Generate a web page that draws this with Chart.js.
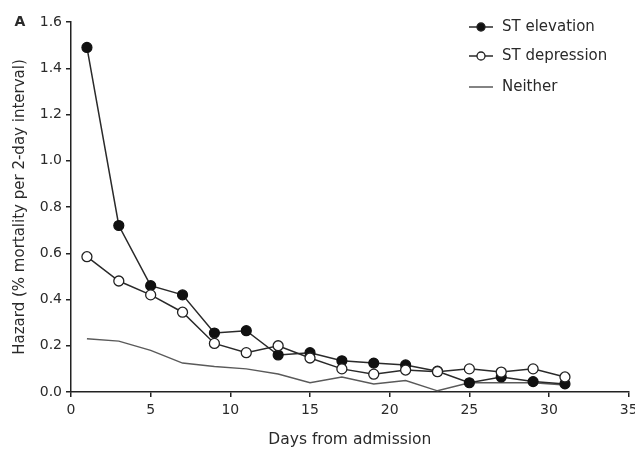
<!DOCTYPE html>
<html>
<head>
<meta charset="utf-8">
<script src="https://cdn.jsdelivr.net/npm/chart.js@4.4.0/dist/chart.umd.min.js"></script>
<style>
  html, body { margin: 0; padding: 0; background: #fff; }
  #wrap { width: 635px; height: 450px; position: relative; }
</style>
</head>
<body>
<div id="wrap"><canvas id="chartHazard" width="635" height="450"></canvas></div>
<script>
const days = [1, 3, 5, 7, 9, 11, 13, 15, 17, 19, 21, 23, 25, 27, 29, 31];
const stElevation = [1.49, 0.72, 0.46, 0.42, 0.255, 0.265, 0.16, 0.17, 0.135, 0.125, 0.117, 0.09, 0.04, 0.065, 0.045, 0.035];
const stDepression = [0.585, 0.48, 0.42, 0.345, 0.21, 0.17, 0.2, 0.147, 0.10, 0.077, 0.095, 0.088, 0.10, 0.086, 0.10, 0.065];
const neither = [0.23, 0.22, 0.18, 0.125, 0.11, 0.10, 0.078, 0.04, 0.065, 0.035, 0.05, 0.005, 0.04, 0.04, 0.04, 0.03];
const xTicks = [0, 5, 10, 15, 20, 25, 30, 35];
const yTicks = [0, 0.2, 0.4, 0.6, 0.8, 1.0, 1.2, 1.4, 1.6];

const fontFam = "'DejaVu Sans', sans-serif";
const textCol = '#2a2a2a';
const toPoints = (vals) => days.map((d, i) => ({ x: d, y: vals[i] }));

// legend + panel letter drawn by hand
const legendPlugin = {
    id: 'legendBox',
    afterDraw(chart) {
        const ctx = chart.ctx;
        const rows = [
            { label: 'ST elevation', y: 27, fill: '#111', marker: true },
            { label: 'ST depression', y: 56, fill: '#fff', marker: true },
            { label: 'Neither', y: 87, marker: false }
        ];
        ctx.save();
        rows.forEach(r => {
            ctx.beginPath();
            ctx.strokeStyle = r.marker ? '#2a2a2a' : '#5a5a5a';
            ctx.lineWidth = 1.5;
            ctx.moveTo(469, r.y);
            ctx.lineTo(493, r.y);
            ctx.stroke();
            if (r.marker) {
                ctx.beginPath();
                ctx.arc(481, r.y, 4, 0, Math.PI * 2);
                ctx.fillStyle = r.fill;
                ctx.fill();
                ctx.strokeStyle = '#222';
                ctx.lineWidth = 1.3;
                ctx.stroke();
            }
            ctx.fillStyle = textCol;
            ctx.font = '15px ' + fontFam;
            ctx.textBaseline = 'middle';
            ctx.textAlign = 'left';
            ctx.fillText(r.label, 502, r.y);
        });
        ctx.font = 'bold 14px ' + fontFam;
        ctx.textAlign = 'center';
        ctx.fillText('A', 20, 22);
        ctx.restore();
    }
};

new Chart(document.getElementById('chartHazard').getContext('2d'), {
    type: 'line',
    data: {
        datasets: [
            {
                label: 'ST elevation',
                data: toPoints(stElevation),
                borderColor: '#2a2a2a',
                borderWidth: 1.5,
                pointRadius: 5,
                pointBackgroundColor: '#111',
                pointBorderColor: '#111',
                pointBorderWidth: 1.2,
                order: 2
            },
            {
                label: 'ST depression',
                data: toPoints(stDepression),
                borderColor: '#2a2a2a',
                borderWidth: 1.5,
                pointRadius: 5,
                pointBackgroundColor: '#fff',
                pointBorderColor: '#222',
                pointBorderWidth: 1.3,
                order: 1
            },
            {
                label: 'Neither',
                data: toPoints(neither),
                borderColor: '#5a5a5a',
                borderWidth: 1.5,
                pointRadius: 0,
                order: 3
            }
        ]
    },
    options: {
        responsive: false,
        animation: false,
        layout: { padding: { top: 22, right: 5, left: 0, bottom: 0 } },
        plugins: {
            legend: { display: false },
            tooltip: { enabled: false }
        },
        scales: {
            x: {
                type: 'linear',
                min: 0,
                max: 35,
                afterBuildTicks: (scale) => { scale.ticks = xTicks.map(v => ({ value: v })); },
                afterFit: (scale) => { scale.height = 58; scale.paddingLeft = 0; scale.paddingRight = 0; },
                border: { display: true, color: '#222', width: 1.5 },
                grid: { display: true, drawOnChartArea: false, drawTicks: true, tickLength: 5, color: '#222', lineWidth: 1.5 },
                ticks: { color: textCol, font: { family: fontFam, size: 14 }, padding: 5, maxRotation: 0 },
                title: { display: true, text: 'Days from admission', color: textCol, font: { family: fontFam, size: 15.5 }, padding: { top: 0, bottom: 1 } }
            },
            y: {
                min: 0,
                max: 1.6,
                afterBuildTicks: (scale) => { scale.ticks = yTicks.map(v => ({ value: v })); },
                afterFit: (scale) => { scale.width = 71; scale.paddingTop = 0; scale.paddingBottom = 0; },
                border: { display: true, color: '#222', width: 1.5 },
                grid: { display: true, drawOnChartArea: false, drawTicks: true, tickLength: 5, color: '#222', lineWidth: 1.5 },
                ticks: {
                    color: textCol,
                    font: { family: fontFam, size: 14 },
                    padding: 4,
                    callback: (v) => Number(v).toFixed(1)
                },
                title: { display: true, text: 'Hazard (% mortality per 2-day interval)', color: textCol, font: { family: fontFam, size: 15 }, padding: { top: 11, bottom: 0 } }
            }
        }
    },
    plugins: [legendPlugin]
});
</script>
</body>
</html>
